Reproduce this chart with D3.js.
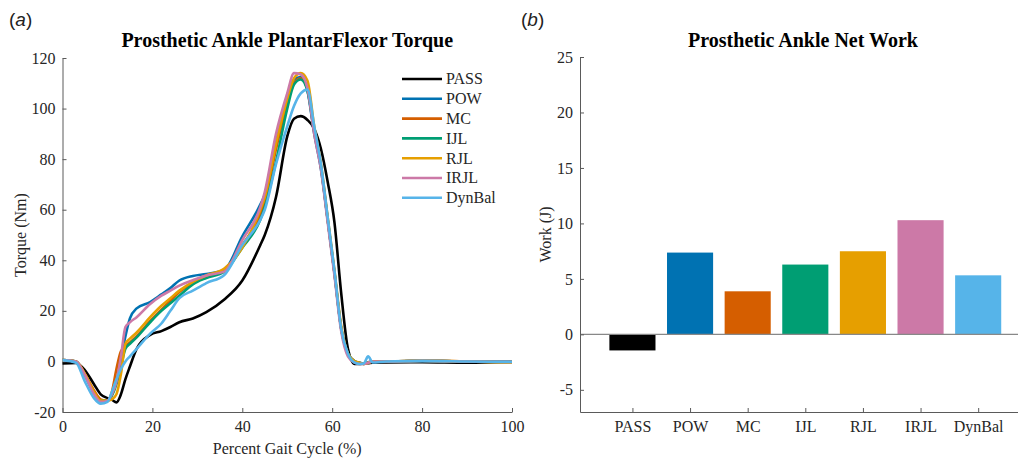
<!DOCTYPE html>
<html>

<head>
    <meta charset='utf-8'>
    <title>Prosthetic Ankle</title>
    <script type='text/javascript' src='https://cdn.jsdelivr.net/npm/d3@7'></script>
    <style>
        body { margin: 0; background: #fff; }
        text { font-family: 'Liberation Serif', 'Times New Roman', serif; fill: #262626; }
    </style>
</head>

<body>
    <svg width='1018' height='461'></svg>
    <script type='text/javascript'>

        // condition names and colours
        const conditions = ['PASS', 'POW', 'MC', 'IJL', 'RJL', 'IRJL', 'DynBal']
        const colors = ['#000000', '#0072B2', '#D55E00', '#009E73', '#E69F00', '#CC79A7', '#56B4E9']

        // percent gait cycle samples (shared by all torque curves)
        const gait = [0, 3, 5, 7, 8.5, 10, 11, 12, 13, 14, 15, 16.5, 19.5, 22, 24, 26, 29, 32, 36, 40,
            44, 45, 47.5, 50, 51.5, 53, 54.5, 56, 57.5, 59, 60.5, 62, 63.5, 65, 66, 67, 68, 69, 72, 80, 90, 100]

        // plantarflexor torque (Nm)
        const torquePASS = [-0.8, -0.6, -3.5, -9, -13, -14.5, -15.2, -16.2, -13, -7, -2, 5, 10.5, 12, 13.6, 15.5, 17, 19.5, 24.5, 32,
            46, 50, 65, 89, 96, 97, 95.5, 92, 84, 71, 55, 27, 5, -1, -1, -0.8, -0.7, -0.5, -0.4, -0.3, -0.5, -0.2]
        const torquePOW = [0.5, 0, -5.5, -12.5, -15.5, -15.5, -13, -8, 1, 10, 17, 21, 23.5, 26.5, 29, 32, 33.8, 34.6, 36.2, 49.5,
            62, 66, 87, 102, 111.5, 112.5, 107, 90, 76, 56, 35, 13, 3, 0, -0.5, -0.8, -0.3, 0, 0, 0.2, 0, -0.2]
        const torqueMC = [0.5, 0, -5, -11.5, -15, -15.5, -12, -3, 4, 6, 7.5, 10, 16, 20.5, 24, 27.5, 31, 33.5, 36, 46,
            58, 63, 84, 102, 110, 112, 108, 91, 77, 56, 35, 13, 3, 0, -0.5, -1, -0.5, 0, 0, 0.3, 0, -0.2]
        const torqueIJL = [0.5, 0, -5.5, -12.5, -15.5, -15.5, -13.5, -9, -2, 5, 7, 9.5, 15.5, 20, 23, 26, 30.5, 33, 35.5, 45,
            56, 61, 79, 100, 109.5, 111.5, 107, 91, 77, 56, 35, 13, 3, 0, -0.5, -1, -0.4, 0, 0, 0.2, 0, -0.2]
        const torqueRJL = [0.5, 0, -5, -12, -15.5, -15.5, -15, -13, -5, 7, 9, 11.5, 17.5, 22, 25, 28, 31.5, 34, 36.7, 45,
            60, 65, 86, 104, 112, 114, 111, 93, 78, 57, 36, 14, 3, 0, -0.5, -1, -0.5, 0, 0, 0.3, 0, -0.5]
        const torqueIRJL = [0.5, 0, -5.5, -13, -16, -15.5, -13, -8, 2, 13.6, 15.5, 17.5, 22.7, 26, 28, 30, 32.1, 34, 35.5, 48,
            61, 67, 90, 106, 114, 113.5, 108, 90, 76, 55, 34, 12, 2, -0.5, -1, -1, -0.5, 0, 0, 0.2, 0, -0.2]
        const torqueDynBal = [0.5, -0.5, -8, -14.5, -16.7, -16, -12, -7, -3, 0, 2, 5, 11, 15, 20, 25, 28, 31, 34.2, 46,
            56, 60, 78, 93, 101, 106, 107.5, 93, 78, 57, 36, 13, 3, -0.5, -1, -0.8, 2, -0.4, 0, 0.2, 0, -0.2]
        const torques = [torquePASS, torquePOW, torqueMC, torqueIJL, torqueRJL, torqueIRJL, torqueDynBal]

        // net work (J)
        const netWork = [-1.45, 7.37, 3.88, 6.29, 7.49, 10.29, 5.32]

        const xTicksA = [0, 20, 40, 60, 80, 100]
        const yTicksA = [-20, 0, 20, 40, 60, 80, 100, 120]
        const yTicksB = [-5, 0, 5, 10, 15, 20, 25]

        const svg = d3.select('svg')
        const axisColor = '#5a5a5a'
        const serif = "'Liberation Serif', 'Times New Roman', serif"
        const plain = d => String(d)   // keep the short hyphen like the original

        function styleAxis(g) {
            g.attr('font-family', null)
            g.selectAll('path').attr('stroke', axisColor)
            g.selectAll('line').attr('stroke', axisColor)
            g.selectAll('text')
                .style('font-size', '16px')
                .style('font-family', serif)
                .style('fill', '#262626')
        }

        // ---------- (a) torque curves ----------
        const xA = d3.scaleLinear().domain([0, 100]).range([62.5, 512])
        const yA = d3.scaleLinear().domain([-20, 120]).range([412, 58])

        const gA = svg.append('g')
        gA.append('g').attr('transform', `translate(0,${yA(-20)})`)
            .call(d3.axisBottom(xA).tickValues(xTicksA).tickFormat(plain).tickSizeInner(-4).tickSizeOuter(0).tickPadding(9))
            .call(styleAxis)
        gA.append('g').attr('transform', `translate(${xA(0)},0)`)
            .call(d3.axisLeft(yA).tickValues(yTicksA).tickFormat(plain).tickSizeInner(-4).tickSizeOuter(0).tickPadding(7))
            .call(styleAxis)

        const line = d3.line()
            .x((d, i) => xA(gait[i]))
            .y(d => yA(d))
            .curve(d3.curveMonotoneX)

        gA.selectAll('.curve').data(torques).enter()
            .append('path')
            .attr('class', 'curve')
            .attr('fill', 'none')
            .attr('stroke', (d, i) => colors[i])
            .attr('stroke-width', 2.6)
            .attr('stroke-linejoin', 'round')
            .attr('d', d => line(d))

        // legend
        const legend = gA.selectAll('.legend').data(conditions).enter()
            .append('g')
            .attr('class', 'legend')
            .attr('transform', (d, i) => `translate(402,${79 + i * 19.8})`)
        legend.append('line')
            .attr('x1', 0).attr('x2', 40)
            .attr('stroke', (d, i) => colors[i])
            .attr('stroke-width', 2.6)
        legend.append('text')
            .attr('x', 44).attr('dy', '0.34em')
            .style('font-size', '16px')
            .text(d => d)

        gA.append('text')
            .attr('x', (xA(0) + xA(100)) / 2).attr('y', 47)
            .attr('text-anchor', 'middle').style('font-size', '20px').attr('font-weight', 'bold')
            .style('fill', '#000')
            .text('Prosthetic Ankle PlantarFlexor Torque')
        gA.append('text')
            .attr('x', (xA(0) + xA(100)) / 2).attr('y', 454)
            .attr('text-anchor', 'middle').style('font-size', '16px')
            .text('Percent Gait Cycle (%)')
        gA.append('text')
            .attr('transform', `translate(26,${(yA(-20) + yA(120)) / 2}) rotate(-90)`)
            .attr('text-anchor', 'middle').style('font-size', '16px')
            .text('Torque (Nm)')
        gA.append('text')
            .attr('x', 9).attr('y', 26)
            .style('font-size', '19px')
            .style('font-family', "'Liberation Sans', Arial, sans-serif")
            .style('fill', '#222')
            .html('(<tspan font-style="italic">a</tspan>)')

        // ---------- (b) net work bars ----------
        const xB = d3.scaleLinear().domain([0.09, 7.83]).range([580, 1026])
        const yB = d3.scaleLinear().domain([-7, 25]).range([412, 57])
        const barW = xB(0.8) - xB(0)

        const gB = svg.append('g')
        gB.selectAll('.bar').data(netWork).enter()
            .append('rect')
            .attr('class', 'bar')
            .attr('x', (d, i) => xB(i + 1) - barW / 2)
            .attr('width', barW)
            .attr('y', d => yB(Math.max(0, d)))
            .attr('height', d => Math.abs(yB(d) - yB(0)))
            .attr('fill', (d, i) => colors[i])

        gB.append('line')
            .attr('x1', xB(0.09)).attr('x2', xB(7.83))
            .attr('y1', yB(0)).attr('y2', yB(0))
            .attr('stroke', '#888').attr('stroke-width', 1.2)

        gB.append('g').attr('transform', `translate(0,${yB(-7)})`)
            .call(d3.axisBottom(xB).tickValues(d3.range(1, 8)).tickFormat((d, i) => conditions[i])
                .tickSizeInner(-4).tickSizeOuter(0).tickPadding(9))
            .call(styleAxis)
        gB.append('g').attr('transform', `translate(${xB(0.09)},0)`)
            .call(d3.axisLeft(yB).tickValues(yTicksB).tickFormat(plain).tickSizeInner(-4).tickSizeOuter(0).tickPadding(7))
            .call(styleAxis)

        gB.append('text')
            .attr('x', 803).attr('y', 47)
            .attr('text-anchor', 'middle').style('font-size', '20px').attr('font-weight', 'bold')
            .style('fill', '#000')
            .text('Prosthetic Ankle Net Work')
        gB.append('text')
            .attr('transform', `translate(551,${(yB(-7) + yB(25)) / 2}) rotate(-90)`)
            .attr('text-anchor', 'middle').style('font-size', '16px')
            .text('Work (J)')
        gB.append('text')
            .attr('x', 521).attr('y', 26)
            .style('font-size', '19px')
            .style('font-family', "'Liberation Sans', Arial, sans-serif")
            .style('fill', '#222')
            .html('(<tspan font-style="italic">b</tspan>)')
    </script>
</body>

</html>
